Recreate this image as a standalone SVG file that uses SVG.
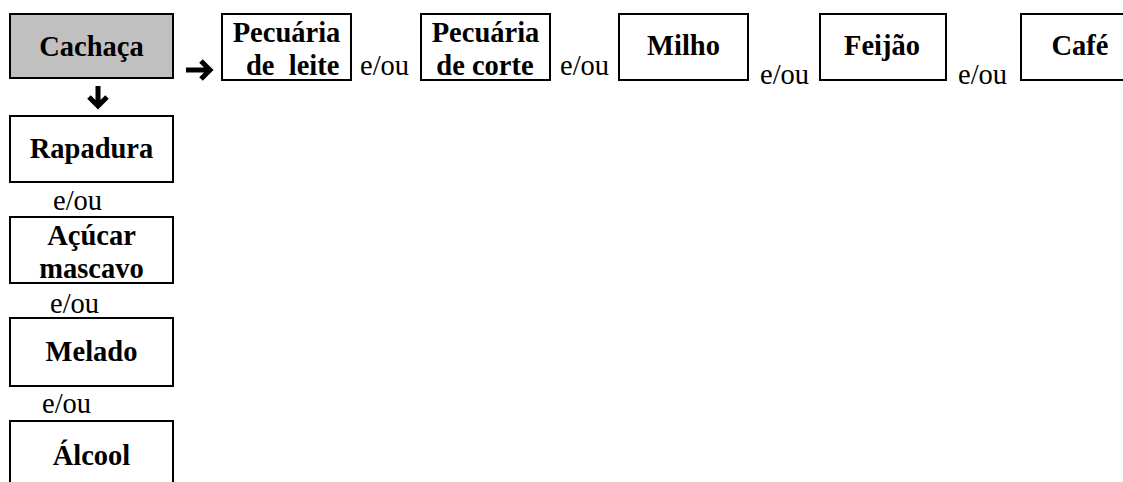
<svg xmlns="http://www.w3.org/2000/svg" width="1123" height="482" viewBox="0 0 1123 482">
  <style>
    .box { fill: #ffffff; stroke: #000000; stroke-width: 2; }
    .root { fill: #c0c0c0; stroke: #000000; stroke-width: 2; }
    .name { font-family: "Liberation Serif", "Times New Roman", serif; font-weight: bold; font-size: 28.5px; fill: #000000; }
    .mid { text-anchor: middle; }
    .conj { font-family: "Liberation Serif", "Times New Roman", serif; font-size: 28.5px; fill: #000000; }
    .arrow { fill: none; stroke: #000000; stroke-width: 5; stroke-linejoin: miter; }
  </style>

  <rect width="1123" height="482" fill="#ffffff"/>

  <!-- root product -->
  <g id="cachaca">
    <rect class="root" x="10" y="14" width="163" height="64"/>
    <text class="name mid" x="91.5" y="56">Cachaça</text>
  </g>

  <!-- top row -->
  <g id="pecuaria-leite">
    <rect class="box" x="222" y="14" width="129" height="66"/>
    <text class="name mid" x="286.5" y="42">Pecuária</text>
    <text class="name" x="246" y="75" xml:space="preserve">de  leite</text>
  </g>
  <g id="pecuaria-corte">
    <rect class="box" x="421" y="14" width="129" height="66"/>
    <text class="name mid" x="485.5" y="42">Pecuária</text>
    <text class="name mid" x="485" y="75">de corte</text>
  </g>
  <g id="milho">
    <rect class="box" x="619" y="14" width="129" height="66"/>
    <text class="name mid" x="683.5" y="55">Milho</text>
  </g>
  <g id="feijao">
    <rect class="box" x="820" y="14" width="126" height="66"/>
    <text class="name mid" x="882" y="55">Feijão</text>
  </g>
  <g id="cafe">
    <rect class="box" x="1021" y="14" width="118" height="66"/>
    <text class="name mid" x="1080" y="55">Café</text>
  </g>

  <!-- left column -->
  <g id="rapadura">
    <rect class="box" x="10" y="116" width="163" height="66"/>
    <text class="name mid" x="91.5" y="158">Rapadura</text>
  </g>
  <g id="acucar-mascavo">
    <rect class="box" x="10" y="217" width="163" height="66"/>
    <text class="name mid" x="91.5" y="245">Açúcar</text>
    <text class="name mid" x="91.5" y="278">mascavo</text>
  </g>
  <g id="melado">
    <rect class="box" x="10" y="318" width="163" height="68"/>
    <text class="name mid" x="91.5" y="361">Melado</text>
  </g>
  <g id="alcool">
    <rect class="box" x="10" y="421" width="163" height="68"/>
    <text class="name mid" x="91.5" y="465">Álcool</text>
  </g>

  <!-- "e/ou" conjunctions between alternatives -->
  <g id="conjunctions">
    <text class="conj" x="360" y="75">e/ou</text>
    <text class="conj" x="560" y="75">e/ou</text>
    <text class="conj" x="760" y="84">e/ou</text>
    <text class="conj" x="958" y="84">e/ou</text>
    <text class="conj" x="53" y="210">e/ou</text>
    <text class="conj" x="50" y="313">e/ou</text>
    <text class="conj" x="42" y="413">e/ou</text>
  </g>

  <!-- arrows from the root -->
  <g id="connectors">
    <path class="arrow" d="M186 70 H208 M201 61 L210 70 L201 79"/>
    <path class="arrow" d="M98 86 V105 M89 97 L98 106 L107 97"/>
  </g>
</svg>
